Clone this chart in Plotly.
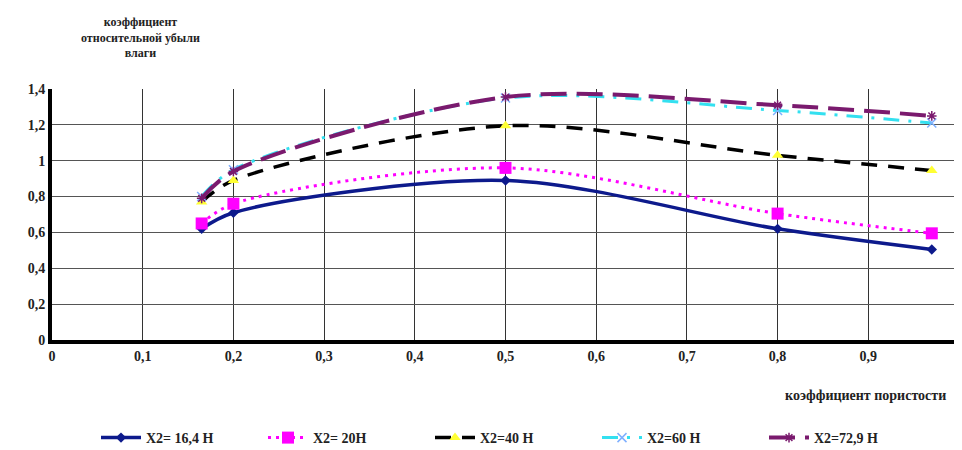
import plotly.graph_objects as go

x_vals = [0.165, 0.2, 0.5, 0.8, 0.97]
s_164 = [0.62, 0.71, 0.89, 0.62, 0.505]
s_20 = [0.65, 0.76, 0.96, 0.705, 0.595]
s_40 = [0.77, 0.89, 1.195, 1.03, 0.945]
s_60 = [0.80, 0.95, 1.35, 1.28, 1.21]
s_729 = [0.79, 0.94, 1.355, 1.31, 1.25]

names = ["X2= 16,4 Н", "X2= 20Н", "X2=40 Н", "X2=60 Н", "X2=72,9 Н"]
x_ticks = [0, 0.1, 0.2, 0.3, 0.4, 0.5, 0.6, 0.7, 0.8, 0.9, 1]
y_ticks = [0, 0.2, 0.4, 0.6, 0.8, 1, 1.2, 1.4]

FONT = "Liberation Serif"
# page is offset by the 8px default body margin
OFF = 8
L, R, T, B = 52 - OFF, 962 - (959 - OFF), 89 - OFF, 450 - (340 - OFF)
PW, PH = 959 - 52, 340 - 89

fig = go.Figure()
fig.add_trace(go.Scatter(x=x_vals, y=s_164, name=names[0], mode="lines+markers",
                         line=dict(color="#0d1a8c", width=3.5, shape="spline", smoothing=0.9),
                         marker=dict(symbol="diamond", size=8, color="#0d1a8c")))
fig.add_trace(go.Scatter(x=x_vals, y=s_20, name=names[1], mode="lines+markers",
                         line=dict(color="#ff00ff", width=3, dash="3px,5px", shape="spline", smoothing=0.9),
                         marker=dict(symbol="square", size=12, color="#ff00ff")))
fig.add_trace(go.Scatter(x=x_vals, y=s_40, name=names[2], mode="lines+markers",
                         line=dict(color="#000000", width=3.5, dash="16px,11px", shape="spline", smoothing=0.9),
                         marker=dict(symbol="triangle-up", size=10, color="#ffff33")))
fig.add_trace(go.Scatter(x=x_vals, y=s_60, name=names[3], mode="lines+markers",
                         line=dict(color="#33e0f0", width=3, dash="16px,9px,3px,9px", shape="spline", smoothing=0.9),
                         marker=dict(symbol="x-thin", size=9, color="#33e0f0", line=dict(width=1.5, color="#7fb0ff"))))
fig.add_trace(go.Scatter(x=x_vals, y=s_729, name=names[4], mode="lines+markers",
                         line=dict(color="#7a1a6e", width=4, dash="26px,10px", shape="spline", smoothing=0.9),
                         marker=dict(symbol="asterisk", size=8, color="#7a1a6e", line=dict(width=1.5, color="#7a1a6e"))))

fig.update_layout(
    width=962, height=450,
    margin=dict(l=L, r=R, t=T, b=B, autoexpand=False),
    plot_bgcolor="white", paper_bgcolor="white",
    separators=", ",
    font=dict(family=FONT, size=14, color="#222222", weight="bold"),
    showlegend=True,
    legend=dict(orientation="h", x=(96 - 52) / PW, xanchor="left",
                y=-(438 - 340) / PH, yanchor="middle",
                font=dict(family=FONT, size=14, color="#222222", weight="bold"),
                entrywidth=112, entrywidthmode="pixels", itemwidth=40, tracegroupgap=0),
)
fig.update_xaxes(range=[0, 1], tickvals=x_ticks, showgrid=True, gridcolor="#333333", gridwidth=1,
                 showline=True, linecolor="black", linewidth=4, zeroline=False,
                 ticks="", tickfont=dict(family=FONT, size=14, weight="bold"))
fig.update_yaxes(range=[0, 1.4], tickvals=y_ticks, showgrid=True, gridcolor="#555555", gridwidth=1,
                 showline=True, linecolor="black", linewidth=4, zeroline=False,
                 ticks="", tickfont=dict(family=FONT, size=14, weight="bold"))

fig.add_annotation(text="коэффициент<br>относительной убыли<br>влаги", xref="paper", yref="paper",
                   x=(140 - 52) / PW, y=1 + (89 - 38) / PH, xanchor="center", yanchor="middle",
                   showarrow=False, font=dict(family=FONT, size=12, weight="bold"))
fig.add_annotation(text="коэффициент пористости", xref="paper", yref="paper",
                   x=(948 - 52) / PW, y=-(395 - 340) / PH, xanchor="right", yanchor="middle",
                   showarrow=False, font=dict(family=FONT, size=14, weight="bold"))

fig.write_html("out.html")
